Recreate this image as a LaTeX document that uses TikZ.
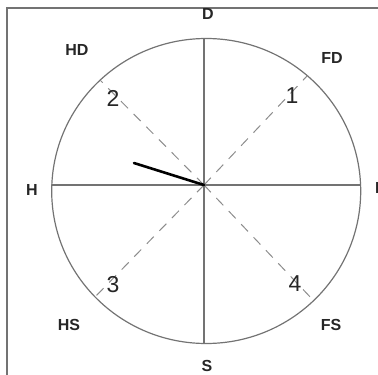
\documentclass[tikz,border=0pt]{standalone}
\usepackage{fontspec}
\setmainfont{Liberation Sans}
\begin{document}
\begin{tikzpicture}[x=1pt, y=-1pt, inner sep=0pt,
  rim/.style={draw=black!55, line width=1.2pt},
  axis/.style={draw=black!55, line width=1.2pt},
  diag/.style={draw=black!45, line width=1pt, dash pattern=on 10pt off 8pt},
  hand/.style={draw=black, line width=2.6pt, line cap=round},
  dir/.style={font=\fontsize{16}{16}\selectfont\bfseries, text=black!85},
  num/.style={font=\fontsize{23}{23}\selectfont, text=black!85}]
  \useasboundingbox (0,0) rectangle (378,375);
  % frame
  \draw[black!55, line width=1.5pt] (378,8) -- (7,8) -- (7,375);
  % dial
  \coordinate (O) at (204,185);
  \draw[rim] (206.2,191) ellipse[x radius=154.5pt, y radius=152.5pt];
  \coordinate (top) at (204,38.5);
  \coordinate (bot) at (204,343.5);
  \coordinate (lft) at (52,185);
  \coordinate (rgt) at (360.5,185);
  \draw[axis] (top) -- (bot);
  \draw[axis] (lft) -- (rgt);
  \foreach \c/\p in {c1/{307,76}, c2/{100,80}, c3/{95,297}, c4/{313.5,300.5}} {
    \coordinate (\c) at (\p);
    \draw[diag] (O) -- (\c);
  }
  % quadrant numbers
  \foreach \n/\t/\p in {n1/1/{292,96}, n2/2/{113,98}, n3/3/{113,285}, n4/4/{295,284}}
    \node[num] (\n) at (\p) {\t};
  % directions
  \foreach \n/\t/\p in {d/D/{208,14}, hd/HD/{77,50}, fd/FD/{332,58}, h/H/{32,190},
                        hs/HS/{69,325}, fs/FS/{331,325}, s/S/{207,366}}
    \node[dir] (\n) at (\p) {\t};
  \node[dir, anchor=west] (f) at (375,188) {F};
  % hand
  \coordinate (tip) at (134,163);
  \draw[hand] (O) -- (tip);
\end{tikzpicture}
\end{document}
